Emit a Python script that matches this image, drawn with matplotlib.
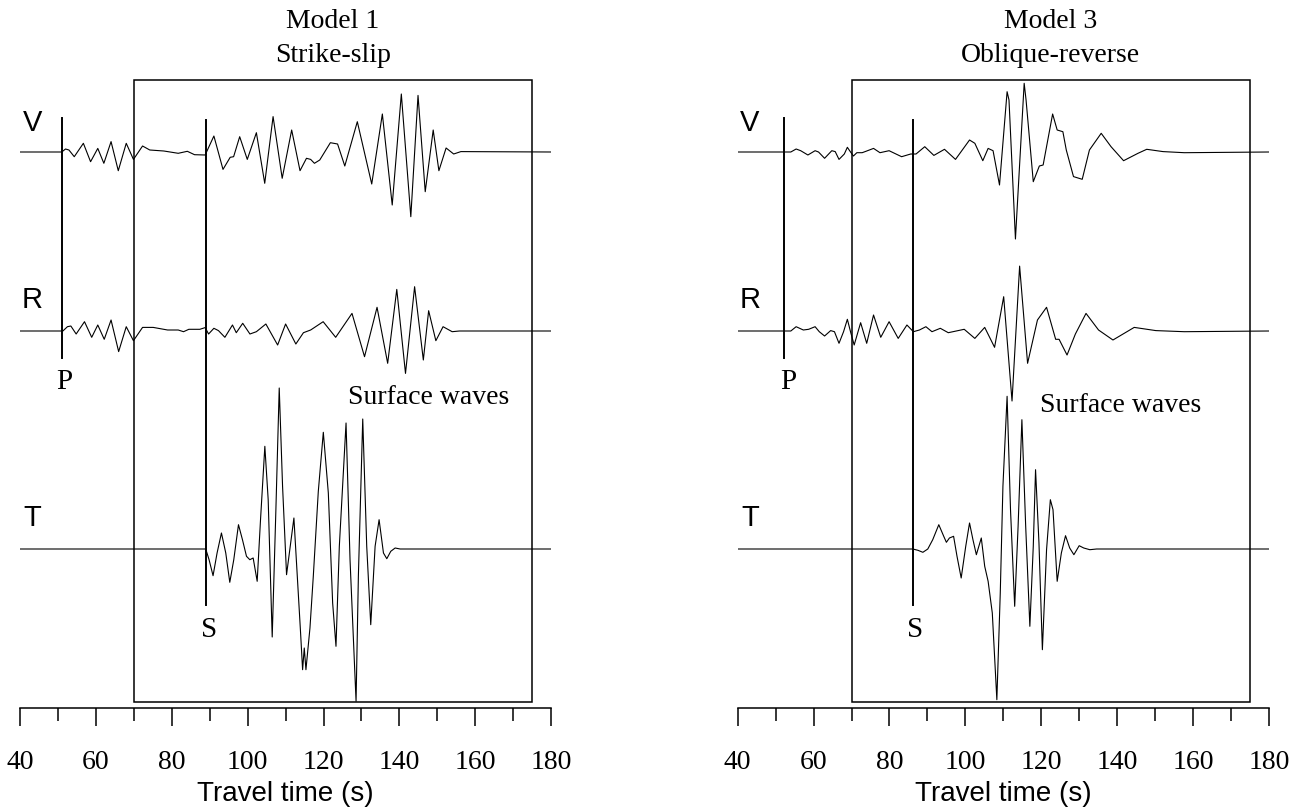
import numpy as np
import matplotlib.pyplot as plt
from matplotlib.patches import Rectangle
from matplotlib.ticker import MultipleLocator

# ---- data: time (s), amplitude (arbitrary units, up = +) ----
# Model 1, strike-slip
m1_v_t = [40, 51.0, 52.0, 52.9, 54.3, 56.7, 58.6, 60.5, 62.1, 64.0, 65.9, 68.0, 69.9, 72.3, 74.2,
          77.9, 81.7, 84.1, 86.0, 88.8, 91.1, 93.5, 95.4, 96.3, 97.9, 99.9, 102.3, 104.5, 106.7,
          109.1, 111.6, 113.8, 115.5, 116.6, 117.6, 119.0, 121.8, 123.7, 125.6, 128.9, 132.7,
          135.5, 138.1, 140.5, 143.0, 144.9, 146.8, 148.9, 150.4, 152.3, 154.3, 156.2, 180]
m1_v_a = [0, 0, 3.0, 2.0, -4.7, 8.7, -9.7, 3.6, -11.3, 10.4, -18.7, 8.7, -7.4, 6.0, 2.0,
          1.0, -1.3, 0.7, -2.7, -3.0, 16.0, -17.4, -5.3, -4.7, 15.3, -7.4, 19.3, -31.3, 35.4,
          -26.3, 22.0, -18.7, -6.3, -7.4, -11.3, -8.0, 9.3, 8.0, -14.0, 30.3, -32.0,
          38.0, -53.0, 58.0, -64.7, 56.6, -39.7, 22.0, -18.7, 4.0, -2.0, 0.4, 0]

m1_r_t = [40, 51.3, 52.5, 53.4, 54.8, 57.0, 58.9, 60.5, 62.2, 64.0, 66.0, 68.0, 69.9, 72.3,
          75.1, 78.9, 81.7, 83.1, 84.5, 87.4, 88.8, 89.7, 91.1, 92.3, 94.0, 96.0, 97.0, 98.7,
          100.6, 102.3, 104.8, 107.9, 110.0, 112.7, 114.7, 116.6, 119.9, 123.2, 127.5, 130.8,
          134.1, 136.9, 139.3, 141.6, 144.0, 146.3, 147.7, 149.6, 151.5, 153.9, 155.8, 180]
m1_r_a = [0, 0, 4.3, 5.0, -3.0, 9.3, -6.3, 6.0, -8.3, 11.0, -20.6, 4.3, -9.7, 3.6,
          3.6, 1.0, 1.0, -0.7, 1.7, 1.7, 3.4, -3.0, 2.7, 0.4, -6.3, 6.0, -1.7, 7.7,
          -3.0, -0.7, 7.0, -14.0, 7.0, -13.0, -1.7, 1.0, 9.3, -6.3, 17.6, -25.7,
          23.7, -32.3, 41.6, -42.4, 44.3, -29.0, 20.3, -9.7, 4.3, -0.7, 0, 0]

m1_t_t = [40, 88.95, 89.83, 90.88, 91.94, 93.09, 94.23, 95.29, 96.34, 97.58, 98.63, 99.69,
          100.57, 101.45, 102.51, 103.39, 104.53, 105.41, 106.47, 107.44, 108.32, 109.20,
          110.25, 112.19, 113.95, 114.48, 114.92, 115.36, 116.42, 117.30, 118.62, 119.94,
          121.26, 122.40, 123.28, 124.16, 125.93, 126.98, 128.57, 129.18, 130.33, 131.38,
          132.44, 133.59, 134.64, 135.79, 136.67, 137.72, 138.87, 140.19, 180]
m1_t_a = [0, 0, -10.7, -26.7, -4.0, 16.0, -4.0, -33.3, -10.7, 24.3, 9.3, -7.3,
          -10.7, -9.0, -32.3, 29.3, 102.7, 49.3, -88.0, 39.3, 161.0, 62.7,
          -25.7, 31.0, -84.0, -120.7, -99.0, -120.7, -79.0, -27.3, 57.7, 116.7,
          56.0, -54.0, -97.3, 2.7, 126.0, -10.7, -152.3, -27.3, 130.0, 2.7,
          -75.7, 2.7, 29.3, -4.0, -9.7, -2.3, 1.0, 0, 0]

# Model 3, oblique-reverse
m3_v_t = [40, 54.0, 55.4, 56.6, 58.5, 60.4, 61.3, 62.9, 64.8, 65.7, 66.7, 68.1, 68.9, 69.5,
          70.5, 71.4, 72.8, 73.8, 75.8, 77.5, 79.9, 83.2, 85.6, 87.0, 89.3, 91.7, 94.5, 97.4,
          101.1, 102.5, 104.6, 106.0, 107.3, 109.0, 111.0, 111.5, 113.2, 115.5, 116.0, 117.9,
          119.5, 120.5, 123.0, 124.2, 125.7, 126.6, 128.5, 130.8, 132.7, 135.8, 138.4, 141.7,
          145.5, 147.8, 152.1, 157.7, 180]
m3_v_a = [0, 0, 3.0, 1.3, -3.0, 1.3, 0, -6.3, 1.3, 0.4, -7.4, -2.0, 4.7, 1.3,
          -4.0, -0.7, -0.7, 0.7, 3.6, -0.7, 1.3, -4.7, -2.0, -2.0, 5.3, -3.4, 2.7, -7.4,
          12.0, 8.7, -8.7, 3.6, 1.3, -33.0, 60.3, 52.0, -87.0, 68.7, 52.0, -29.7,
          -14.0, -13.0, 38.0, 22.0, 20.3, 2.0, -24.6, -27.3, 2.0, 18.7, 5.3, -8.7,
          -1.3, 2.7, 0.4, -0.7, 0]

m3_r_t = [40, 54.0, 55.4, 57.3, 58.7, 60.4, 61.5, 62.9, 64.5, 65.5, 66.7, 67.9, 68.9, 69.8,
          70.7, 72.4, 74.0, 75.8, 77.7, 79.9, 82.3, 84.6, 86.3, 87.9, 89.6, 91.2, 93.4, 95.5,
          99.7, 102.5, 105.1, 107.7, 110.1, 112.3, 114.3, 116.4, 119.0, 121.4, 123.8, 124.7,
          126.8, 129.0, 131.8, 135.1, 138.9, 144.5, 150.2, 157.7, 180]
m3_r_a = [0, 0, 4.3, 1.0, 1.7, 4.3, -0.7, -5.0, 0.4, -0.7, -12.3, -0.7, 11.7, -1.7,
          -14.0, 8.3, -12.3, 16.0, -6.3, 9.3, -7.4, 6.0, -0.7, 1.0, 4.3, -0.7, 2.7, -1.7,
          1.7, -7.4, 3.6, -16.3, 34.3, -70.0, 64.9, -32.3, 11.0, 23.7, -8.3, -8.3,
          -24.0, -3.0, 17.6, 1.0, -9.0, 3.6, 0.4, -0.7, 0]

m3_t_t = [40, 86.15, 87.5, 88.8, 90.1, 91.4, 93.0, 94.3, 95.0, 95.8, 96.9, 97.8, 98.9, 100.1,
          101.1, 102.0, 102.9, 104.2, 105.1, 106.0, 107.1, 108.3, 109.2, 109.9, 111.0, 111.9,
          113.0, 113.9, 114.9, 115.9, 117.0, 117.9, 118.5, 119.4, 120.3, 121.4, 122.4, 123.1,
          124.2, 125.3, 126.4, 127.5, 128.6, 130.0, 131.2, 132.8, 134.6, 180]
m3_t_a = [0, 0, -1.3, -3.3, 0, 9.3, 24.3, 12.7, 6.7, 11.0, 12.7, -7.3, -29.0, 2.7,
          26.0, 9.3, -5.7, 11.0, -17.3, -32.3, -64.0, -150.7, -44.0, 62.7, 152.7, 39.3,
          -57.3, 22.7, 129.3, 22.7, -77.3, 2.7, 79.3, 6.0, -100.7, -0.7, 49.3, 39.3,
          -32.3, -4.0, 13.3, 1.0, -5.7, 3.3, 1.0, -0.7, 0, 0]

components = ["V", "R", "T"]
tick_values = [40, 60, 80, 100, 120, 140, 160, 180]

# ---- layout (figure drawn in pixel-like y units, 0 at top) ----
W, H = 1302, 811
SERIF = "Liberation Serif"
SANS = "Liberation Sans"
baselines = {"V": 152, "R": 331, "T": 549}

fig = plt.figure(figsize=(W / 100, H / 100), dpi=100)


def draw_panel(x0, x1, title, sub, traces, p_time, s_time, p_lab, s_lab, sw_lab):
    ax = fig.add_axes([x0 / W, 0, (x1 - x0) / W, 1])
    ax.set_xlim(40, 180)
    ax.set_ylim(H, 0)
    ax.patch.set_visible(False)

    for name in components:
        t, a = traces[name]
        ax.plot(t, baselines[name] - np.array(a), color="black", lw=0.8,
                solid_joinstyle="round")

    ax.add_patch(Rectangle((70, 80), 105, 622, fill=False, lw=1.1, ec="black"))

    # phase markers
    ax.plot([p_time, p_time], [118, 358], color="black", lw=1.4)
    ax.plot([s_time, s_time], [120, 605], color="black", lw=1.4)
    ax.text(p_lab, 382, "P", family=SERIF, fontsize=21, ha="center", va="center")
    ax.text(s_lab, 630, "S", family=SERIF, fontsize=21, ha="center", va="center")
    ax.text(sw_lab[0], sw_lab[1], "Surface waves", family=SERIF, fontsize=20,
            ha="center", va="center")

    for name, y in zip(components, [123, 300, 518]):
        ax.text(43.2, y, name, family=SANS, fontsize=21, ha="center", va="center")

    ax.text(122.5, 22, title, family=SERIF, fontsize=20, ha="center", va="center")
    ax.text(122.5, 55, sub, family=SERIF, fontsize=20, ha="center", va="center")

    # x axis
    for side in ["top", "left", "right"]:
        ax.spines[side].set_visible(False)
    ax.spines["bottom"].set_position(("data", 708))
    ax.spines["bottom"].set_linewidth(1.1)
    ax.set_yticks([])
    ax.set_xticks(tick_values)
    ax.xaxis.set_minor_locator(MultipleLocator(10))
    ax.tick_params(axis="x", which="major", direction="out", length=13, width=1.1,
                   pad=17, labelsize=20)
    ax.tick_params(axis="x", which="minor", direction="out", length=9, width=1.1)
    for lab in ax.get_xticklabels():
        lab.set_family(SERIF)
    ax.text(110, 794, "Travel time (s)", family=SANS, fontsize=20, ha="center", va="center")
    return ax


draw_panel(20, 551.2, "Model 1", "Strike-slip",
           {"V": (m1_v_t, m1_v_a), "R": (m1_r_t, m1_r_a), "T": (m1_t_t, m1_t_a)},
           51.2, 88.9, 51.6, 89.8, (147.8, 398))
draw_panel(737.7, 1268.9, "Model 3", "Oblique-reverse",
           {"V": (m3_v_t, m3_v_a), "R": (m3_r_t, m3_r_a), "T": (m3_t_t, m3_t_a)},
           52.1, 86.3, 53.2, 86.7, (141.0, 405))

fig.savefig("out.png", dpi=100)
